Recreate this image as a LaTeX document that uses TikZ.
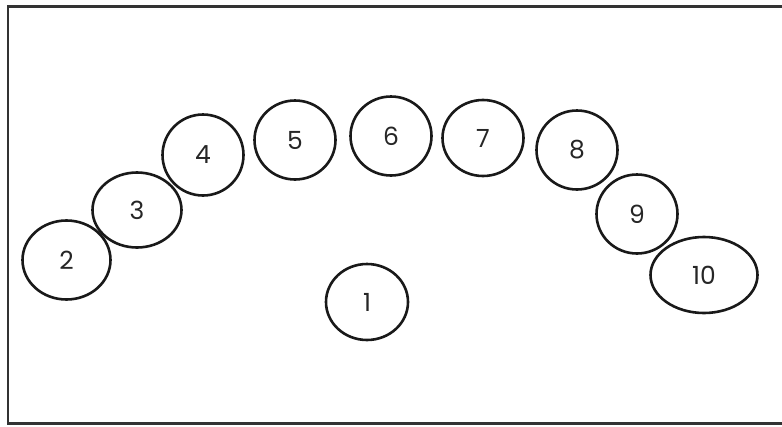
\documentclass[tikz,border=0pt]{standalone}
\usepackage{fontspec}
\setmainfont{Poppins}
\usetikzlibrary{shapes.geometric}
\tikzset{
  seat/.style={draw=black!90, line width=2.6pt, ellipse, inner sep=0pt,
    font=\fontsize{25}{25}\selectfont, text=black!85},
  frameline/.style={draw=black!80, line width=2.4pt}
}
\begin{document}
\begin{tikzpicture}[x=1pt,y=-1pt]
\useasboundingbox (0,0) rectangle (782,426);
\coordinate (tr) at (790,6.5);
\coordinate (tl) at (8,6.5);
\coordinate (bl) at (8,423.5);
\coordinate (br) at (790,423.5);
\draw[frameline] (tr) -- (tl) -- (bl) -- (br);
\node[seat, minimum width=82pt, minimum height=76pt] (n1) at (367,302) {1};
\node[seat, minimum width=88pt, minimum height=79pt] (n2) at (66.5,260) {2};
\node[seat, minimum width=89pt, minimum height=75pt] (n3) at (137,210) {3};
\node[seat, minimum width=81pt, minimum height=81pt] (n4) at (203,155) {4};
\node[seat, minimum width=81pt, minimum height=79pt] (n5) at (295,140) {5};
\node[seat, minimum width=81pt, minimum height=79pt] (n6) at (391,136) {6};
\node[seat, minimum width=81pt, minimum height=76pt] (n7) at (483,138) {7};
\node[seat, minimum width=81pt, minimum height=79pt] (n8) at (577,150) {8};
\node[seat, minimum width=81pt, minimum height=79pt] (n9) at (637,214) {9};
\node[seat, minimum width=107pt, minimum height=76pt] (n10) at (704,275) {10};
\end{tikzpicture}
\end{document}
